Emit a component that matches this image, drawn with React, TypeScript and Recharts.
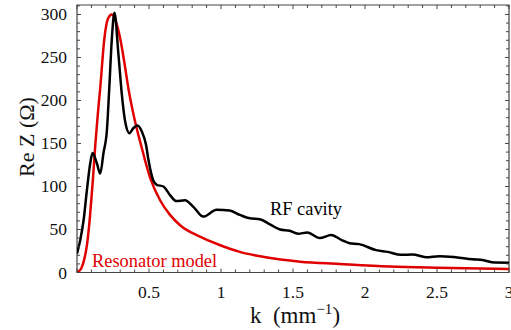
import React from "react";
import { LineChart, Line, XAxis, YAxis, ReferenceArea } from "recharts";

// RF cavity impedance (black)
const cavityK = [
  0, 0.023, 0.046, 0.069, 0.092, 0.108, 0.138, 0.161, 0.184, 0.208, 0.224, 0.242, 0.26,
  0.288, 0.312, 0.335, 0.364, 0.392, 0.42, 0.45, 0.48, 0.496, 0.53, 0.554, 0.6, 0.646,
  0.69, 0.75, 0.81, 0.877, 0.97, 1.06, 1.13, 1.2, 1.27, 1.34, 1.41, 1.477, 1.535, 1.6,
  1.685, 1.766, 1.835, 1.893, 1.96, 2.077, 2.158, 2.25, 2.33, 2.424, 2.516, 2.63, 2.747,
  2.816, 2.9, 3.0,
];
const cavityZ = [
  22, 38, 61, 96, 127, 139, 127, 115, 139, 166, 214, 272, 302,
  253, 206, 175, 162, 168, 171, 164, 148, 131, 107, 102, 100, 90,
  83, 84, 76, 65, 73, 72, 67, 63, 62, 56, 50, 48.5, 45, 46.5,
  40, 43.5, 38, 34, 33, 26, 24, 20.5, 21, 17.8, 19, 17.7, 15.3,
  14.5, 11.5, 11.4,
];

// resonator model (red)
const modelK = [
  0, 0.03, 0.05, 0.07, 0.09, 0.11, 0.127, 0.145, 0.161, 0.19, 0.215, 0.242, 0.27, 0.3,
  0.33, 0.357, 0.4, 0.445, 0.508, 0.577, 0.646, 0.716, 0.854, 0.99, 1.13, 1.3, 1.55, 1.82,
  2.17, 2.5, 3.0,
];
const modelZ = [
  0, 5, 15, 33, 65, 107, 148, 185, 214, 272, 295, 300, 292, 272,
  243, 214, 178, 148, 110, 84, 67, 55, 41.6, 32, 24, 18, 12.6, 10,
  7, 5.5, 4,
];

const xMajorLabels = ["0.5", "1", "1.5", "2", "2.5", "3"];
const yMajorLabels = ["0", "50", "100", "150", "200", "250", "300"];

const cavityData = cavityK.map((k, i) => ({ k, z: cavityZ[i] }));
const modelData = modelK.map((k, i) => ({ k, z: modelZ[i] }));

const xTicks = Array.from({ length: 31 }, (_, i) => i / 10);
const yTicks = Array.from({ length: 32 }, (_, i) => i * 10);

const W = 511;
const H = 330;
const LEFT = 77;
const RIGHT = 509;
const TOP = 5;
const BOTTOM = 272.5;
const FRAME = "#444";
const FONT = "'Liberation Serif', 'Times New Roman', serif";

const XTick = (props: any) => {
  const { x, payload } = props;
  const v = payload.value;
  const major = Math.abs(v * 2 - Math.round(v * 2)) < 1e-6;
  const len = major ? 4 : 3;
  const label = String(Math.round(v * 10) / 10);
  return (
    <g>
      <line x1={x} x2={x} y1={BOTTOM} y2={BOTTOM - len} stroke={FRAME} />
      <line x1={x} x2={x} y1={TOP} y2={TOP + len} stroke={FRAME} />
      {major && xMajorLabels.includes(label) && (
        <text x={x} y={298} textAnchor="middle" fontSize={17.5} fontFamily={FONT} fill="#111">
          {label}
        </text>
      )}
    </g>
  );
};

const YTick = (props: any) => {
  const { y, payload } = props;
  const v = payload.value;
  const major = v % 50 === 0;
  const len = major ? 4 : 3;
  const label = String(v);
  return (
    <g>
      <line x1={LEFT} x2={LEFT + len} y1={y} y2={y} stroke={FRAME} />
      <line x1={RIGHT} x2={RIGHT - len} y1={y} y2={y} stroke={FRAME} />
      {major && yMajorLabels.includes(label) && (
        <text x={67} y={y + 6} textAnchor="end" fontSize={17.5} fontFamily={FONT} fill="#111">
          {label}
        </text>
      )}
    </g>
  );
};

const App = () => {
  return (
    <div style={{ position: "absolute", left: 0, top: 0, background: "#fff" }}>
      <LineChart width={W} height={H} margin={{ top: TOP, right: W - RIGHT, bottom: 0, left: 0 }}>
        <XAxis
          dataKey="k"
          type="number"
          domain={[0, 3]}
          ticks={xTicks}
          interval={0}
          height={H - BOTTOM}
          tick={<XTick />}
          tickLine={false}
          axisLine={false}
          allowDataOverflow
        />
        <YAxis
          dataKey="z"
          type="number"
          domain={[0, 311]}
          ticks={yTicks}
          interval={0}
          width={LEFT}
          tick={<YTick />}
          tickLine={false}
          axisLine={false}
          allowDataOverflow
        />
        <Line
          data={modelData}
          dataKey="z"
          type="monotone"
          stroke="#e00000"
          strokeWidth={2.5}
          dot={false}
          isAnimationActive={false}
        />
        <Line
          data={cavityData}
          dataKey="z"
          type="monotone"
          stroke="#000"
          strokeWidth={2.5}
          dot={false}
          isAnimationActive={false}
        />
        <ReferenceArea x1={0} x2={3} y1={0} y2={311} fill="none" stroke={FRAME} strokeWidth={1.2} />
        <text x={270} y={215} fontSize={18.4} fontFamily={FONT} fill="#000">
          RF cavity
        </text>
        <text x={92} y={267} fontSize={18.4} fontFamily={FONT} fill="#e00000">
          Resonator model
        </text>
        <text x={295} y={323} textAnchor="middle" fontSize={23} fontFamily={FONT} fill="#111">
          k{"\u00a0\u00a0"}(mm
          <tspan fontSize={15} dy={-9}>
            −1
          </tspan>
          <tspan dy={9}>)</tspan>
        </text>
        <text
          x={0}
          y={0}
          transform="translate(34,137) rotate(-90)"
          textAnchor="middle"
          fontSize={22}
          fontFamily={FONT}
          fill="#111"
        >
          Re Z (Ω)
        </text>
      </LineChart>
    </div>
  );
};

export default App;
